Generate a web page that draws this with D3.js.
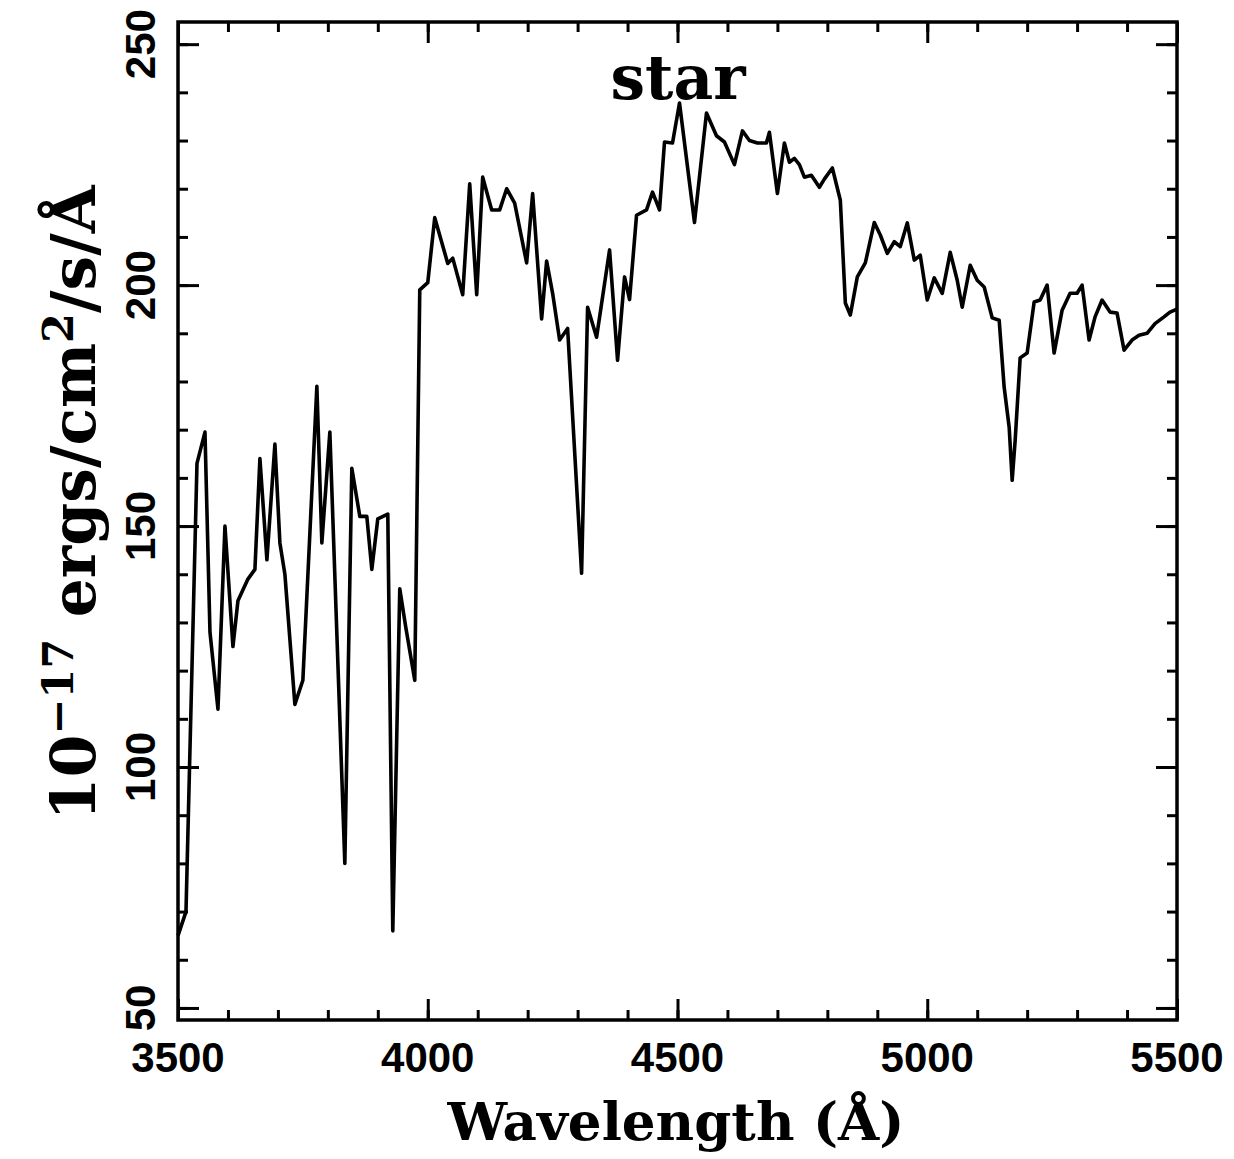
<!DOCTYPE html>
<html>
<head>
<meta charset="utf-8">
<script src="https://cdn.jsdelivr.net/npm/d3@7"></script>
<style>
  body { margin: 0; background: #fff; }
  svg { display: block; }
  .tick line { stroke: #000; stroke-width: 3; }
</style>
</head>
<body>
<div id="chart"></div>
<script>
// spectrum: wavelength (A) and flux (1e-17 erg/cm2/s/A)
var wavelength = [3500, 3516, 3538, 3554, 3564, 3580, 3594, 3610, 3620, 3640, 3654, 3664, 3678, 3694, 3704, 3714,
    3734, 3750, 3778, 3788, 3804, 3834, 3848, 3864, 3878, 3888, 3900, 3920, 3930, 3944, 3956, 3974, 3984,
    4000, 4014, 4040, 4050, 4070, 4084, 4098, 4110, 4128, 4144, 4158, 4174, 4198, 4210, 4228, 4238, 4250,
    4264, 4280, 4308, 4320, 4338, 4364, 4380, 4394, 4404, 4418, 4438, 4450, 4464, 4474, 4490, 4504, 4534,
    4558, 4578, 4594, 4614, 4630, 4644, 4660, 4678, 4684, 4700, 4714, 4724, 4734, 4744, 4754, 4768, 4784,
    4794, 4810, 4826, 4836, 4846, 4860, 4876, 4894, 4906, 4920, 4934, 4946, 4960, 4974, 4986, 5000, 5014,
    5030, 5046, 5060, 5070, 5086, 5100, 5114, 5130, 5144, 5154, 5164, 5170, 5176, 5186, 5200, 5214, 5226,
    5240, 5254, 5270, 5286, 5300, 5310, 5324, 5336, 5350, 5366, 5380, 5394, 5410, 5424, 5440, 5456, 5474,
    5486, 5500];
var flux = [65, 70, 163, 169.5, 128, 112, 150, 125, 134.5, 139, 141, 164, 143, 167, 146.5, 140,
    113, 118, 179, 146.5, 169.5, 80, 162, 152, 152, 141, 151.5, 152.5, 66, 137, 129, 118, 199,
    200.5, 214, 204.5, 205.6, 198, 221, 198, 222.4, 215.6, 215.6, 220, 217, 204.6, 219, 193, 205, 198.3,
    188.6, 191, 140.2, 195.4, 189.2, 207.3, 184.4, 201.7, 197, 214.5, 215.6, 219.3, 215.6, 229.7, 229.5, 237.8, 213,
    235.7, 231, 229.7, 225, 232, 230, 229.5, 229.5, 231.7, 219, 229.5, 225.5, 226.3, 225, 222.4, 222.8, 220.3,
    222, 224.3, 217.6, 196.3, 193.8, 201.7, 204.6, 213, 210.4, 206.6, 209, 208, 212.9, 205.2, 206.2, 196.9, 201.5,
    198.3, 206.8, 201, 195.4, 204.1, 201, 199.6, 193.2, 192.7, 178.8, 170.5, 159.5, 167.8, 184.9, 185.9, 196.5, 196.9,
    200, 185.9, 194.8, 198.3, 198.3, 200, 188.6, 193.4, 196.9, 194.4, 194.2, 186.5, 188.6, 189.6, 190, 192, 193.4,
    194.4, 195];

var xMajor = [3500, 4000, 4500, 5000, 5500];
var yMajor = [50, 100, 150, 200, 250];
var xMinor = d3.range(3500, 5501, 100);
var yMinor = d3.range(50, 251, 10);
var label_text = "star";

var data = wavelength.map((w, i) => ({w: w, f: flux[i]}));

var width = 1234, height = 1159;
var mLeft = 178, mRight = 1177, mTop = 22, mBottom = 1020;

var x = d3.scaleLinear().domain([3500, 5500]).range([mLeft, mRight]);
var y = d3.scaleLinear().domain([47.5, 254.6]).range([mBottom, mTop]);

var svg = d3.select("#chart")
        .append("svg")
        .attr("width", width)
        .attr("height", height);

// fit a text element to a target length by rescaling its font size
function fit(sel, target){
    var fs = parseFloat(sel.attr("font-size"));
    var len = sel.node().getComputedTextLength();
    sel.attr("font-size", fs * target / len);
}

// ticks on all four sides, pointing inward
function ticks(axis, vals, size, tr){
    svg.append("g")
        .attr("transform", tr)
        .call(axis.tickValues(vals).tickSize(-size).tickFormat(""))
        .call(g => g.select(".domain").remove());
}
ticks(d3.axisBottom(x), xMinor, 10, `translate(0,${mBottom})`);
ticks(d3.axisBottom(x), xMajor, 21, `translate(0,${mBottom})`);
ticks(d3.axisTop(x), xMinor, 10, `translate(0,${mTop})`);
ticks(d3.axisTop(x), xMajor, 21, `translate(0,${mTop})`);
ticks(d3.axisLeft(y), yMinor, 10, `translate(${mLeft},0)`);
ticks(d3.axisLeft(y), yMajor, 21, `translate(${mLeft},0)`);
ticks(d3.axisRight(y), yMinor, 10, `translate(${mRight},0)`);
ticks(d3.axisRight(y), yMajor, 21, `translate(${mRight},0)`);

svg.append("rect")
    .attr("x", mLeft)
    .attr("y", mTop)
    .attr("width", mRight - mLeft)
    .attr("height", mBottom - mTop)
    .attr("fill", "none")
    .attr("stroke", "#000")
    .attr("stroke-width", 3.5);

var line = d3.line()
        .x(d => x(d.w))
        .y(d => y(d.f));

svg.append("path")
    .datum(data)
    .attr("d", line)
    .attr("fill", "none")
    .attr("stroke", "#000")
    .attr("stroke-width", 3.6)
    .attr("stroke-linejoin", "round");

// tick labels
svg.selectAll(".xlab")
    .data(xMajor)
    .enter()
    .append("text")
    .attr("class", "xlab")
    .attr("x", d => x(d))
    .attr("y", 1072)
    .attr("text-anchor", "middle")
    .attr("font-family", "Liberation Sans, Arial, sans-serif")
    .attr("font-weight", "bold")
    .attr("font-size", 42)
    .text(d => d);

svg.selectAll(".ylab")
    .data(yMajor)
    .enter()
    .append("text")
    .attr("class", "ylab")
    .attr("transform", d => `translate(155,${y(d)}) rotate(-90)`)
    .attr("text-anchor", "middle")
    .attr("font-family", "Liberation Sans, Arial, sans-serif")
    .attr("font-weight", "bold")
    .attr("font-size", 42)
    .text(d => d);

// axis titles
var xt = svg.append("text")
    .attr("x", 676)
    .attr("y", 1140)
    .attr("text-anchor", "middle")
    .attr("font-family", "DejaVu Serif, serif")
    .attr("font-weight", "bold")
    .attr("font-size", 52)
    .text("Wavelength (Å)");
fit(xt, 457);

var yt = svg.append("text")
    .attr("transform", "translate(95,503) rotate(-90)")
    .attr("text-anchor", "middle")
    .attr("font-family", "DejaVu Serif, serif")
    .attr("font-weight", "bold")
    .attr("font-size", 52);
yt.append("tspan").text("10");
yt.append("tspan").attr("dy", -22).attr("font-size", "0.7em").text("−17");
yt.append("tspan").attr("dy", 22).text(" ergs/cm");
yt.append("tspan").attr("dy", -22).attr("font-size", "0.7em").text("2");
yt.append("tspan").attr("dy", 22).text("/s/Å");
fit(yt, 635);

var st = svg.append("text")
    .attr("x", 678)
    .attr("y", 99)
    .attr("text-anchor", "middle")
    .attr("font-family", "DejaVu Serif, serif")
    .attr("font-weight", 600)
    .attr("font-size", 48)
    .text(label_text);
fit(st, 135);
</script>
</body>
</html>
